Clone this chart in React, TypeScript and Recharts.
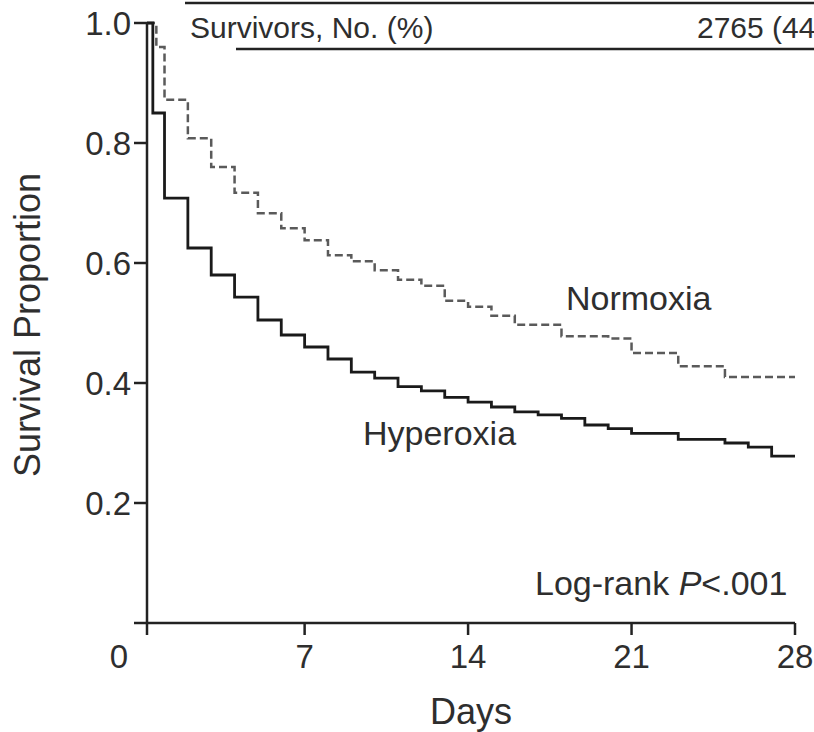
import { LineChart, Line, XAxis, YAxis } from 'recharts';

const hyperDays = [0.25, 0.5, 1, 2, 3, 4, 5, 6, 7, 8, 9, 10, 11, 12, 13, 14, 15, 16, 17, 18, 19, 20, 21, 23, 25, 26, 27, 28];
const hyperSurv = [1.0, 0.85, 0.708, 0.625, 0.58, 0.543, 0.505, 0.48, 0.46, 0.44, 0.418, 0.408, 0.394, 0.387, 0.376, 0.368, 0.36, 0.352, 0.347, 0.341, 0.33, 0.324, 0.316, 0.306, 0.3, 0.293, 0.278, 0.278];

const normoDays = [0.25, 0.65, 1, 2, 3, 4, 5, 6, 7, 8, 9, 10, 11, 12, 13, 14, 15, 16, 18, 20, 21, 23, 25, 28];
const normoSurv = [1.0, 0.96, 0.872, 0.808, 0.76, 0.717, 0.683, 0.658, 0.638, 0.613, 0.603, 0.588, 0.572, 0.562, 0.537, 0.527, 0.512, 0.497, 0.478, 0.474, 0.45, 0.428, 0.41, 0.41];

const dayTicks = [0.25, 7, 14, 21, 28];
const dayLabels = ['0', '7', '14', '21', '28'];
const survTicks = [0, 0.2, 0.4, 0.6, 0.8, 1.0];

const FONT = '"Liberation Sans", Arial, sans-serif';
const INK = '#2e2e2e';

const hyperData = hyperDays.map((d, i) => ({ day: d, surv: hyperSurv[i] }));
const normoData = normoDays.map((d, i) => ({ day: d, surv: normoSurv[i] }));

function DayTick({ x, y, payload, index }: any) {
  // the origin label sits left of the axis corner
  const dx = index === 0 ? -28 : 0;
  return (
    <text x={x + dx} y={y} dy="0.76em" textAnchor="middle" fontSize={33} fontFamily={FONT} fill={INK}>
      {dayLabels[dayTicks.indexOf(payload.value)]}
    </text>
  );
}

function SurvTick({ x, y, payload }: any) {
  if (payload.value === 0) return null;
  return (
    <text x={x} y={y} dy="0.36em" textAnchor="end" fontSize={33} fontFamily={FONT} fill={INK}>
      {payload.value.toFixed(1)}
    </text>
  );
}

export default function App() {
  return (
    <div style={{ position: 'relative', width: 814, height: 732, background: '#fff' }}>
      <style>{`body { margin: 0; }`}</style>
      <LineChart width={814} height={732} margin={{ top: 23, right: 19, bottom: 0, left: 0 }}>
        <XAxis
          dataKey="day"
          type="number"
          domain={[0.25, 28]}
          ticks={dayTicks}
          allowDataOverflow
          height={109}
          tickSize={12}
          tickMargin={8}
          tick={<DayTick />}
          axisLine={{ stroke: '#222', strokeWidth: 2.5 }}
          tickLine={{ stroke: '#222', strokeWidth: 2.5 }}
        />
        <YAxis
          type="number"
          domain={[0, 1]}
          ticks={survTicks}
          width={147}
          tickSize={13}
          tickMargin={3}
          tick={<SurvTick />}
          axisLine={{ stroke: '#222', strokeWidth: 2.5 }}
          tickLine={{ stroke: '#222', strokeWidth: 2.5 }}
        />
        <Line
          data={normoData}
          dataKey="surv"
          type="stepAfter"
          stroke="#5a5a5a"
          strokeWidth={2.5}
          strokeDasharray="8 4"
          dot={false}
          isAnimationActive={false}
        />
        <Line
          data={hyperData}
          dataKey="surv"
          type="stepAfter"
          stroke="#1a1a1a"
          strokeWidth={2.8}
          dot={false}
          isAnimationActive={false}
        />
      </LineChart>

      <svg
        width={814}
        height={732}
        style={{ position: 'absolute', left: 0, top: 0, pointerEvents: 'none' }}
        fontFamily={FONT}
        fill={INK}
      >
        <line x1={185} y1={3} x2={814} y2={3} stroke="#222" strokeWidth={2.5} />
        <line x1={236} y1={49} x2={814} y2={49} stroke="#222" strokeWidth={2.5} />
        <text x={190} y={38} fontSize={30}>Survivors, No. (%)</text>
        <text x={697} y={38} fontSize={30}>2765 (44</text>

        <text x={566} y={310} fontSize={34}>Normoxia</text>
        <text x={363} y={445} fontSize={34}>Hyperoxia</text>
        <text x={535} y={595} fontSize={34}>
          Log-rank <tspan fontStyle="italic">P</tspan>&lt;.001
        </text>

        <text x={471} y={724} fontSize={36} textAnchor="middle">Days</text>
        <text x={40} y={325} fontSize={36} textAnchor="middle" transform="rotate(-90 40 325)">
          Survival Proportion
        </text>
      </svg>
    </div>
  );
}
